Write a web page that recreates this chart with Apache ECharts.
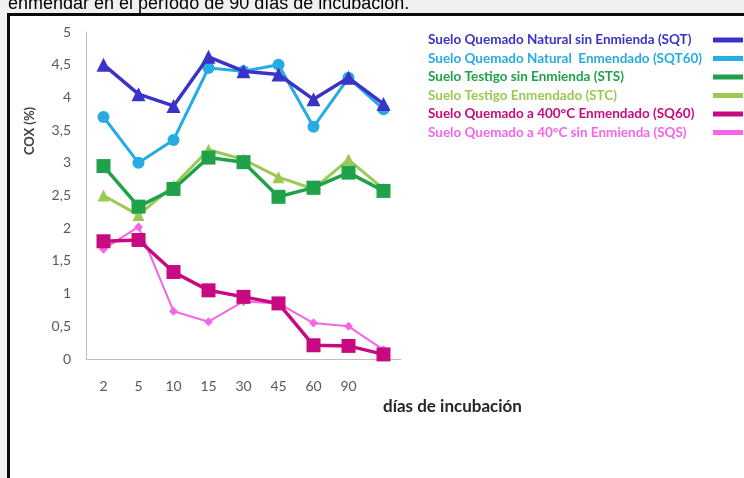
<!DOCTYPE html>
<html>
<head>
<meta charset="utf-8">
<script src="https://cdn.jsdelivr.net/npm/echarts@6/dist/echarts.min.js"></script>
<style>
html,body{margin:0;padding:0;background:#f0f0f0;}
#chart{width:744px;height:478px;}
</style>
</head>
<body>
<div id="chart"></div>
<script>
var categories = ['2', '5', '10', '15', '30', '45', '60', '90', ''];
var seriesNames = [
  'Suelo Quemado Natural sin Enmienda (SQT)',
  'Suelo Quemado Natural  Enmendado (SQT60)',
  'Suelo Testigo sin Enmienda (STS)',
  'Suelo Testigo Enmendado (STC)',
  'Suelo Quemado a 400°C Enmendado (SQ60)',
  'Suelo Quemado a 40°C sin Enmienda (SQS)'
];
var sqt   = [4.5, 4.05, 3.87, 4.62, 4.4, 4.35, 3.97, 4.3, 3.9];
var sqt60 = [3.7, 3.0, 3.35, 4.45, 4.4, 4.5, 3.55, 4.3, 3.82];
var sts   = [2.95, 2.33, 2.6, 3.08, 3.01, 2.48, 2.62, 2.85, 2.57];
var stc   = [2.5, 2.2, 2.65, 3.2, 3.05, 2.78, 2.6, 3.05, 2.6];
var sq60  = [1.8, 1.82, 1.33, 1.05, 0.95, 0.85, 0.21, 0.2, 0.07];
var sqs   = [1.68, 2.02, 0.73, 0.57, 0.88, 0.85, 0.55, 0.5, 0.14];

var colors = ['#3b32c8', '#26ace2', '#1fa24a', '#9bc953', '#c80a80', '#f466e6'];
var symbols = ['triangle', 'circle', 'rect', 'triangle', 'rect', 'diamond'];
var symbolSizes = [14, 12, 14, 12, 14, 9];
var lineWidths = [3.5, 3, 3.5, 3, 3.5, 2];
var values = [sqt, sqt60, sts, stc, sq60, sqs];
var drawOrder = [3, 2, 5, 4, 1, 0];

var chart = echarts.init(document.getElementById('chart'));
var series = drawOrder.map(function (i) {
  return {
    name: seriesNames[i],
    type: 'line',
    data: values[i],
    symbol: symbols[i],
    symbolSize: symbolSizes[i],
    showAllSymbol: true,
    lineStyle: { color: colors[i], width: lineWidths[i] },
    itemStyle: { color: colors[i] },
    z: 2 + drawOrder.indexOf(i) * 0.1
  };
});

chart.setOption({
  backgroundColor: '#f0f0f0',
  animation: false,
  color: colors,
  graphic: [
    { type: 'rect', z: -10, shape: { x: 8.5, y: 14.5, width: 760, height: 500 },
      style: { fill: '#ffffff', stroke: '#0a0a0a', lineWidth: 3 } },
    { type: 'text', x: 8, y: 4, style: { text: 'enmendar en el período de 90 días de incubación.',
      font: '18px "Liberation Sans", Arial, sans-serif', fill: '#000000', verticalAlign: 'middle' } },
    { type: 'text', x: 30, y: 131, rotation: Math.PI / 2, style: { text: 'COX (%)',
      font: 'bold 13px Lato, sans-serif', fill: '#404040', align: 'center', verticalAlign: 'middle' } },
    { type: 'text', x: 383, y: 407, style: { text: 'días de incubación',
      font: 'bold 17px Lato, sans-serif', fill: '#262626', align: 'left', verticalAlign: 'middle' } }
  ],
  legend: {
    orient: 'vertical',
    left: 423,
    top: 28,
    align: 'right',
    icon: 'rect',
    itemWidth: 30,
    itemHeight: 5,
    itemGap: 4.5,
    selectedMode: false,
    formatter: '{t|{name}}',
    textStyle: {
      fontFamily: 'Lato, sans-serif', fontWeight: 'bold', fontSize: 13.5, lineHeight: 14,
      rich: { t: { width: 280, align: 'left', fontFamily: 'Lato, sans-serif', fontWeight: 'bold', fontSize: 13.5, lineHeight: 14 } }
    },
    data: seriesNames.map(function (n, i) {
      return { name: n, textStyle: { color: colors[i] } };
    })
  },
  grid: { left: 86, top: 32, width: 315, height: 327, containLabel: false },
  xAxis: {
    type: 'category',
    data: categories,
    boundaryGap: true,
    axisLine: { lineStyle: { color: '#bfbfbf', width: 1 } },
    axisTick: { show: false },
    axisLabel: { color: '#595959', fontFamily: 'Lato, sans-serif', fontSize: 14, margin: 20, interval: 0 }
  },
  yAxis: {
    type: 'value',
    min: 0,
    max: 5,
    interval: 0.5,
    axisLine: { show: true, lineStyle: { color: '#bfbfbf', width: 1 } },
    axisTick: { show: false },
    splitLine: { show: false },
    axisLabel: {
      color: '#595959', fontFamily: 'Lato, sans-serif', fontSize: 14, margin: 15,
      formatter: function (v) { return String(v).replace('.', ','); }
    }
  },
  series: series
});
</script>
</body>
</html>
